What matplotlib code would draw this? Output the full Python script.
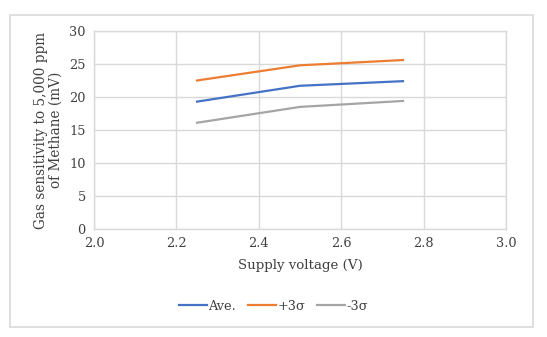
import matplotlib
matplotlib.use("Agg")
import matplotlib.pyplot as plt
from matplotlib.patches import Rectangle

voltage = [2.25, 2.5, 2.75]
ave = [19.3, 21.7, 22.4]
plus3s = [22.5, 24.8, 25.6]
minus3s = [16.1, 18.5, 19.4]
series_labels = ["Ave.", "+3σ", "-3σ"]
x_ticks = [2.0, 2.2, 2.4, 2.6, 2.8, 3.0]
y_ticks = [0, 5, 10, 15, 20, 25, 30]

plt.rcParams['font.family'] = ['DejaVu Serif']
W, H = 547, 337
fig = plt.figure(figsize=(W/100, H/100), dpi=100)
fig.patch.set_facecolor('white')
fig.add_artist(Rectangle((10/W, 1-327/H), (533-10)/W, (327-15)/H, transform=fig.transFigure,
                         fill=False, edgecolor='#d9d9d9', linewidth=1.2))

ax = fig.add_axes([94/W, 1-229/H, (506-94)/W, (229-31)/H])
grid_c = '#d9d9d9'
ax.plot(voltage, ave, color='#4472C4', lw=1.6, label=series_labels[0])
ax.plot(voltage, plus3s, color='#ED7D31', lw=1.6, label=series_labels[1])
ax.plot(voltage, minus3s, color='#A5A5A5', lw=1.6, label=series_labels[2])
ax.set_xlim(2.0, 3.0)
ax.set_ylim(0, 30)
ax.set_xticks(x_ticks)
ax.set_xticklabels([f"{v:.1f}" for v in x_ticks])
ax.set_yticks(y_ticks)
ax.grid(True, color=grid_c, lw=1.0)
ax.set_axisbelow(True)
for s in ax.spines.values():
    s.set_color(grid_c)
    s.set_linewidth(1.0)
ax.tick_params(length=0, labelsize=9.3, colors='#404040', pad=6)
ax.set_xlabel("Supply voltage (V)", fontsize=9.6, color='#404040', labelpad=6)
ax.set_ylabel("Gas sensitivity to 5,000 ppm\nof Methane (mV)", fontsize=9.8, color='#404040',
              labelpad=5, linespacing=1.05)
leg = fig.legend(loc='center', bbox_to_anchor=(0.5, 1-306/H), ncol=3, frameon=False,
                 fontsize=9.3, handlelength=2.2, handletextpad=0.1, columnspacing=0.9)
for t in leg.get_texts():
    t.set_color('#404040')
fig.savefig("out.png", dpi=100)
